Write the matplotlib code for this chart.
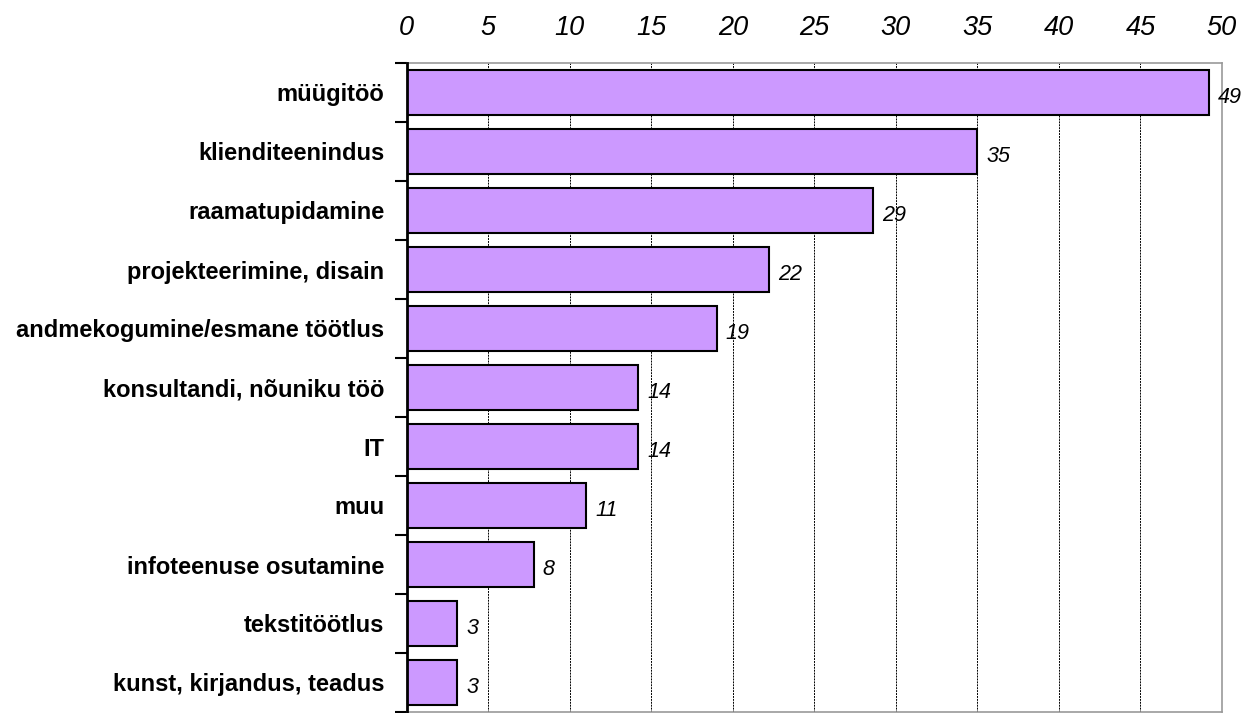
import numpy as np
import matplotlib.pyplot as plt
from matplotlib.ticker import FixedLocator

plt.rcParams['font.family'] = ['Liberation Sans', 'DejaVu Sans']

categories = ['müügitöö', 'klienditeenindus', 'raamatupidamine', 'projekteerimine, disain',
              'andmekogumine/esmane töötlus', 'konsultandi, nõuniku töö', 'IT', 'muu',
              'infoteenuse osutamine', 'tekstitöötlus', 'kunst, kirjandus, teadus']
values = [49.2, 35.0, 28.6, 22.2, 19.0, 14.2, 14.2, 11.0, 7.8, 3.1, 3.1]
xticks = [0, 5, 10, 15, 20, 25, 30, 35, 40, 45, 50]

fig = plt.figure(figsize=(12.52, 7.13), dpi=100)
ax = fig.add_axes([406.7 / 1252, 1 / 713, (1222 - 406.7) / 1252, (712 - 63) / 713])

y = np.arange(len(categories))
ax.barh(y, values, height=0.76, color='#CC99FF', edgecolor='black', linewidth=1.5, zorder=3)

for yi, v in zip(y, values):
    ax.text(v + 0.55, yi + 0.09, '%.0f' % v, va='center', ha='left',
            fontsize=15.5, fontstyle='italic', zorder=4)

ax.set_xlim(0, 50)
ax.set_ylim(len(categories) - 0.5, -0.5)
ax.set_xticks(xticks)
ax.xaxis.tick_top()
ax.tick_params(axis='x', length=0, pad=16, labelsize=19.5)
for lab in ax.get_xticklabels():
    lab.set_fontstyle('italic')

ax.set_yticks(y)
ax.set_yticklabels(categories, fontweight='bold', fontsize=17)
ax.tick_params(axis='y', which='major', length=0, pad=16)
ax.yaxis.set_minor_locator(FixedLocator(np.arange(len(categories) + 1) - 0.5))
ax.tick_params(axis='y', which='minor', length=9, width=1.5, color='black')

ax.grid(axis='x', color='black', linestyle=(0, (2, 1)), linewidth=0.7, zorder=1)
for s in ['top', 'right', 'bottom']:
    ax.spines[s].set_color('#999999')
    ax.spines[s].set_linewidth(1.2)
ax.spines['left'].set_color('black')
ax.spines['left'].set_linewidth(2)
ax.spines['left'].set_zorder(5)

plt.savefig('out.png', dpi=100)
